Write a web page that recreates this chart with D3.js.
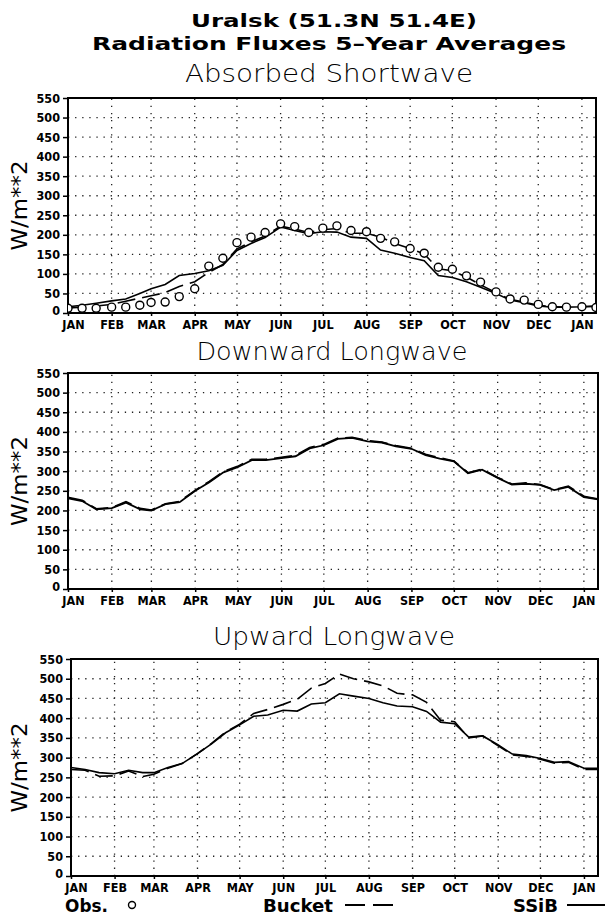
<!DOCTYPE html>
<html>
<head>
<meta charset="utf-8">
<script src="https://cdn.jsdelivr.net/npm/d3@7"></script>
<style>
  body { margin: 0; background: #fff; }
</style>
</head>
<body>
<svg id="chart" width="605" height="917"></svg>
<script>
// month ticks (day of year) and labels
const monthDays = [0, 31, 59, 90, 120, 151, 181, 212, 243, 273, 304, 334, 365];
const monthLabels = ["JAN", "FEB", "MAR", "APR", "MAY", "JUN", "JUL", "AUG", "SEP", "OCT", "NOV", "DEC", "JAN"];
// 10-day sample points (1st, 11th, 21st of every month)
const dekadDays = [0, 10, 20, 31, 41, 51, 59, 69, 79, 90, 100, 110, 120, 130, 140, 151, 161, 171, 181,
  191, 201, 212, 222, 232, 243, 253, 263, 273, 283, 293, 304, 314, 324, 334, 344, 354, 365, 375];
const yTicks = [0, 50, 100, 150, 200, 250, 300, 350, 400, 450, 500, 550];

// absorbed shortwave
const obsSW = [12, 12, 12, 15, 15, 20, 27, 28, 42, 62, 120, 140, 180, 194, 206, 228, 221, 206, 217,
  223, 211, 208, 191, 182, 165, 153, 117, 112, 95, 79, 54, 36, 33, 22, 16, 15, 16, 14];
const ssibSW = [16, 20, 25, 31, 36, 50, 62, 73, 96, 101, 108, 122, 160, 178, 193, 220, 211, 203, 208,
  207, 194, 191, 161, 153, 142, 134, 96, 91, 80, 66, 50, 33, 26, 18, 15, 15, 16, 18];
const bucketSW = [13, 15, 18, 22, 30, 38, 44, 52, 68, 80, 104, 124, 164, 182, 197, 222, 215, 206, 213,
  216, 204, 204, 194, 178, 165, 151, 113, 108, 92, 72, 52, 35, 28, 20, 16, 15, 16, 17];

// downward longwave
const ssibDLW = [231, 224, 203, 206, 220, 203, 200, 216, 221, 250, 272, 297, 310, 328, 328, 333, 338, 358, 366,
  382, 385, 376, 373, 363, 357, 341, 332, 325, 295, 304, 283, 266, 268, 265, 252, 260, 234, 228];
const bucketDLW = [233, 226, 204, 207, 222, 205, 201, 217, 223, 251, 274, 299, 312, 330, 330, 335, 340, 360, 368,
  384, 386, 378, 374, 365, 358, 343, 334, 326, 296, 305, 284, 267, 270, 266, 253, 262, 236, 229];

// upward longwave
const ssibULW = [275, 270, 262, 259, 268, 262, 262, 275, 285, 310, 335, 363, 383, 405, 408, 420, 418, 436, 439,
  462, 456, 450, 439, 431, 429, 417, 390, 386, 352, 355, 332, 309, 305, 298, 288, 290, 273, 273];
const bucketULW = [270, 268, 253, 254, 266, 252, 258, 273, 285, 310, 336, 365, 385, 412, 422, 435, 448, 476, 488,
  512, 500, 492, 482, 463, 459, 440, 395, 391, 350, 355, 330, 307, 303, 296, 286, 288, 270, 270];

const svg = d3.select("#chart");
const narrow = "'Liberation Sans Narrow', 'DejaVu Sans Condensed', 'Liberation Sans', sans-serif";
const plain = "'DejaVu Sans', sans-serif";

// header
svg.append("text")
  .attr("x", 334).attr("y", 27)
  .attr("text-anchor", "middle")
  .attr("font-family", plain).attr("font-weight", "bold").attr("font-size", "18px")
  .attr("textLength", 286).attr("lengthAdjust", "spacingAndGlyphs")
  .text("Uralsk (51.3N 51.4E)");
svg.append("text")
  .attr("x", 329).attr("y", 50)
  .attr("text-anchor", "middle")
  .attr("font-family", plain).attr("font-weight", "bold").attr("font-size", "18px")
  .attr("textLength", 474).attr("lengthAdjust", "spacingAndGlyphs")
  .text("Radiation Fluxes 5\u2013Year Averages");

const panels = [
  { title: "Absorbed Shortwave", tx: 329, ty: 82, tlen: 288,
    left: 68, right: 596, top: 98, bottom: 313,
    ssib: ssibSW, bucket: bucketSW, obs: obsSW, width: 1.6 },
  { title: "Downward Longwave", tx: 332, ty: 360, tlen: 271,
    left: 68, right: 598, top: 373, bottom: 589,
    ssib: ssibDLW, bucket: bucketDLW, obs: null, width: 1.8 },
  { title: "Upward Longwave", tx: 334, ty: 645, tlen: 242,
    left: 71, right: 598, top: 659, bottom: 876,
    ssib: ssibULW, bucket: bucketULW, obs: null, width: 1.6 }
];

panels.forEach((p, k) => {
  const x = d3.scaleLinear().domain([0, 375]).range([p.left, p.right]);
  const y = d3.scaleLinear().domain([0, 550]).range([p.bottom, p.top]);
  const g = svg.append("g");

  g.append("text")
    .attr("x", p.tx).attr("y", p.ty)
    .attr("text-anchor", "middle")
    .attr("font-family", plain).attr("font-weight", 300).attr("font-size", "25px")
    .attr("textLength", p.tlen).attr("lengthAdjust", "spacingAndGlyphs")
    .text(p.title);

  // dotted grid
  g.append("g").selectAll("line")
    .data(yTicks.filter(v => v > 0 && v < 550))
    .join("line")
    .attr("x1", p.left).attr("x2", p.right)
    .attr("y1", d => y(d)).attr("y2", d => y(d))
    .attr("stroke", "#222").attr("stroke-width", 1.3)
    .attr("stroke-dasharray", "1.3,5.8");
  g.append("g").selectAll("line")
    .data(monthDays.filter(d => d > 0))
    .join("line")
    .attr("x1", d => x(d)).attr("x2", d => x(d))
    .attr("y1", p.bottom).attr("y2", p.top)
    .attr("stroke", "#222").attr("stroke-width", 1.3)
    .attr("stroke-dasharray", "1.3,5.8");

  // axes
  const ya = g.append("g")
    .attr("transform", `translate(${p.left},0)`)
    .call(d3.axisLeft(y).tickValues(yTicks).tickSize(5).tickPadding(3));
  const xa = g.append("g")
    .attr("transform", `translate(0,${p.bottom})`)
    .call(d3.axisBottom(x).tickValues(monthDays).tickSize(3).tickPadding(4)
      .tickFormat((d, i) => monthLabels[i]));
  [ya, xa].forEach(a => {
    a.select(".domain").remove();
    a.selectAll(".tick line").attr("stroke", "#000").attr("stroke-width", 1.5);
    a.selectAll("text")
      .attr("font-family", narrow).attr("font-size", "12.5px")
      .attr("font-weight", "bold").attr("fill", "#000");
  });
  // first JAN label sits a little right of its tick
  xa.selectAll(".tick text").filter((d, i) => i === 0).attr("dx", "5");
  ya.selectAll(".tick text").filter(d => d === 0).attr("dy", "0.1em");

  // frame
  g.append("rect")
    .attr("x", p.left).attr("y", p.top)
    .attr("width", p.right - p.left).attr("height", p.bottom - p.top)
    .attr("fill", "none").attr("stroke", "#000").attr("stroke-width", 2);

  // y label
  g.append("text")
    .attr("transform", `translate(27,${(p.top + p.bottom) / 2}) rotate(-90)`)
    .attr("text-anchor", "middle")
    .attr("font-family", plain).attr("font-size", "22px")
    .attr("textLength", 90).attr("lengthAdjust", "spacingAndGlyphs")
    .text("W/m**2");

  const clipId = "clip" + k;
  svg.append("clipPath").attr("id", clipId)
    .append("rect")
    .attr("x", p.left).attr("y", p.top - 2)
    .attr("width", p.right - p.left).attr("height", p.bottom - p.top + 2);

  const line = d3.line()
    .x((d, i) => x(dekadDays[i]))
    .y(d => y(d));

  const plot = g.append("g").attr("clip-path", `url(#${clipId})`);
  plot.append("path")
    .datum(p.bucket)
    .attr("d", line)
    .attr("fill", "none").attr("stroke", "#000")
    .attr("stroke-width", p.width)
    .attr("stroke-dasharray", "18,7");
  plot.append("path")
    .datum(p.ssib)
    .attr("d", line)
    .attr("fill", "none").attr("stroke", "#000")
    .attr("stroke-width", p.width);

  if (p.obs) {
    plot.selectAll("circle")
      .data(p.obs)
      .join("circle")
      .attr("cx", (d, i) => x(dekadDays[i]))
      .attr("cy", d => y(d))
      .attr("r", 4)
      .attr("fill", "#fff").attr("stroke", "#000").attr("stroke-width", 1.4);
  }
});

// legend
const leg = svg.append("g")
  .attr("font-family", plain).attr("font-weight", "bold").attr("font-size", "17px");
leg.append("text").attr("x", 65).attr("y", 912)
  .attr("textLength", 43).attr("lengthAdjust", "spacingAndGlyphs").text("Obs.");
leg.append("circle").attr("cx", 132).attr("cy", 905).attr("r", 3.5)
  .attr("fill", "none").attr("stroke", "#000").attr("stroke-width", 1.4);
leg.append("text").attr("x", 263).attr("y", 912)
  .attr("textLength", 70).attr("lengthAdjust", "spacingAndGlyphs").text("Bucket");
leg.append("line").attr("x1", 345).attr("x2", 394).attr("y1", 905).attr("y2", 905)
  .attr("stroke", "#000").attr("stroke-width", 1.8).attr("stroke-dasharray", "20,8");
leg.append("text").attr("x", 513).attr("y", 912)
  .attr("textLength", 45).attr("lengthAdjust", "spacingAndGlyphs").text("SSiB");
leg.append("line").attr("x1", 567).attr("x2", 605).attr("y1", 905).attr("y2", 905)
  .attr("stroke", "#000").attr("stroke-width", 1.8);
</script>
</body>
</html>
